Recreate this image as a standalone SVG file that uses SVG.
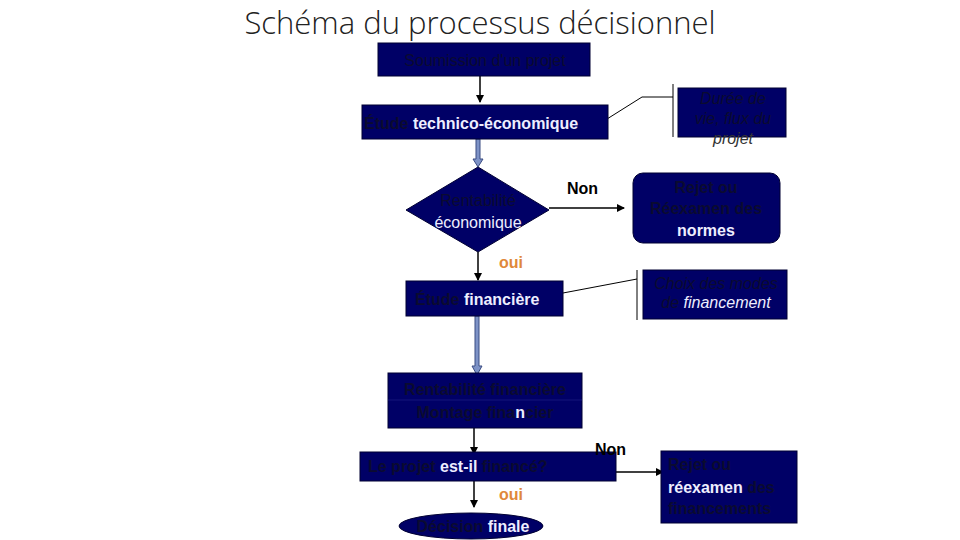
<svg xmlns="http://www.w3.org/2000/svg" width="960" height="540" viewBox="0 0 960 540">
<style>
.box{fill:#000066;stroke:#000033;stroke-width:1}
.t{font-family:"Liberation Sans",Arial,sans-serif;font-size:16px;fill:#0b0b30}
.b{font-weight:bold}
.i{font-style:italic}
.w{fill:#eeeeff}
.k{fill:#000}
.g{fill:#333}
.o{fill:#e0883a;font-weight:bold;font-family:"Liberation Sans",Arial,sans-serif;font-size:16px}
.lk{stroke:#000;stroke-width:1.5;fill:none}
.th{stroke:#000;stroke-width:1;fill:none}
.thick{fill:#7d92c6;stroke:#3b4c82;stroke-width:1}
</style>
<defs>
<marker id="ah" markerWidth="8" markerHeight="8" refX="7" refY="4" orient="auto" markerUnits="userSpaceOnUse">
<path d="M0,0 L8,4 L0,8 Z" fill="#000"/>
</marker>
</defs>
<rect width="960" height="540" fill="#fff"/>
<text x="480" y="34" text-anchor="middle" font-family="'Open Sans','Liberation Sans',sans-serif" font-size="31" font-weight="300" fill="#222">Schéma du processus décisionnel</text>

<g id="connectors">
<line class="lk" x1="480" y1="76" x2="480" y2="102" marker-end="url(#ah)"/>
<path class="thick" d="M476,139 L480,139 L480,159 L483,159 L478,167 L473,159 L476,159 Z"/>
<line class="lk" x1="549" y1="208" x2="624" y2="208" marker-end="url(#ah)"/>
<line class="lk" x1="478" y1="252" x2="478" y2="280" marker-end="url(#ah)"/>
<path class="thick" d="M475,316 L479,316 L479,366 L482,366 L477,375 L472,366 L475,366 Z"/>
<line class="lk" x1="474" y1="428" x2="474" y2="454" marker-end="url(#ah)"/>
<line class="lk" x1="616" y1="472" x2="663" y2="472" marker-end="url(#ah)"/>
<line class="lk" x1="474" y1="481" x2="474" y2="507" marker-end="url(#ah)"/>
<polyline class="th" points="607,119 642,97 673,97"/>
<line class="th" x1="673" y1="84" x2="673" y2="137"/>
<line class="th" x1="563" y1="293" x2="637" y2="279"/>
<line class="th" x1="637" y1="270" x2="637" y2="320"/>
</g>

<g id="n-soumission">
<rect class="box" x="378" y="43" width="212" height="33"/>
<text class="t" x="485" y="66" text-anchor="middle">Soumission d'un projet</text>
</g>

<g id="n-technico">
<rect class="box" x="362" y="105" width="246" height="34"/>
<text class="t b" x="364" y="129">Étude <tspan class="w">technico-économique</tspan></text>
</g>

<g id="n-duree">
<rect class="box" x="678" y="88" width="108" height="49"/>
<text class="t i" font-size="14" x="733" y="104" text-anchor="middle">Durée de</text>
<text class="t i" font-size="14" x="733" y="124" text-anchor="middle">vie, flux du</text>
<text class="t i g" font-size="14" x="733" y="144" text-anchor="middle">projet</text>
</g>

<g id="n-rentab-eco">
<polygon class="box" points="478,167 549,210 478,252 406,210"/>
<text class="t" x="478" y="206" text-anchor="middle">Rentabilité</text>
<text class="t w" x="478" y="228" text-anchor="middle">économique</text>
</g>

<text class="t b k" x="567" y="194">Non</text>

<g id="n-rejet-normes">
<rect class="box" x="633" y="173" width="147" height="70" rx="10"/>
<text class="t b" x="706" y="193" text-anchor="middle">Rejet ou</text>
<text class="t b" x="706" y="214" text-anchor="middle">Réexamen des</text>
<text class="t b w" x="706" y="236" text-anchor="middle">normes</text>
</g>

<text class="o" x="499" y="268">oui</text>

<g id="n-financiere">
<rect class="box" x="406" y="281" width="157" height="35"/>
<text class="t b" x="415" y="305">Étude <tspan class="w">financière</tspan></text>
</g>

<g id="n-choix">
<rect class="box" x="643" y="270" width="144" height="49"/>
<text class="t i" font-size="15" x="716" y="289" text-anchor="middle">Choix des modes</text>
<text class="t i" font-size="15" x="716" y="308" text-anchor="middle">de <tspan class="w">financement</tspan></text>
</g>

<g id="n-rentab-fin">
<rect class="box" x="388" y="373" width="194" height="55"/>
<line x1="388" y1="400" x2="582" y2="400" stroke="#14147a" stroke-width="1"/>
<text class="t b" font-size="15" x="485" y="395" text-anchor="middle">Rentabilité financière</text>
<text class="t b" font-size="15" x="485" y="418" text-anchor="middle">Montage fina<tspan class="w">n</tspan>cier</text>
</g>

<g id="n-finance">
<rect class="box" x="360" y="452" width="256" height="29"/>
<text class="t b" x="368" y="472">Le projet <tspan class="w">est-il</tspan> financé?</text>
</g>

<text class="t b k" x="595" y="455">Non</text>

<g id="n-rejet-fin">
<rect class="box" x="661" y="451" width="136" height="72"/>
<text class="t b" x="668" y="470">Rejet ou</text>
<text class="t b" x="668" y="493"><tspan class="w">réexamen</tspan> des</text>
<text class="t b" x="668" y="514">financements</text>
</g>

<text class="o" x="499" y="500">oui</text>

<g id="n-decision">
<ellipse class="box" cx="471" cy="526" rx="72" ry="13"/>
<text class="t b" x="473" y="532" text-anchor="middle">Décision <tspan class="w">finale</tspan></text>
</g>
</svg>
